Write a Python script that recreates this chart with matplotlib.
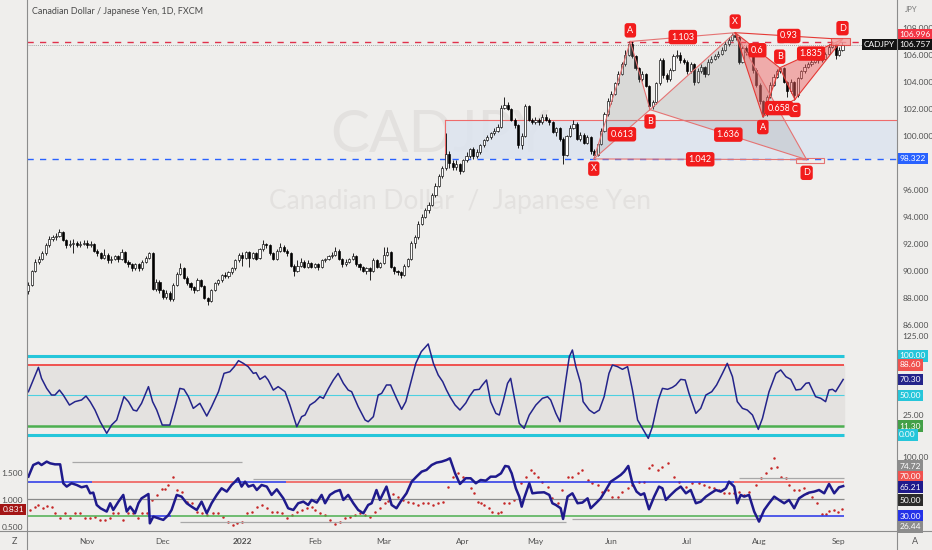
import numpy as np
import matplotlib
matplotlib.use("Agg")
import matplotlib.pyplot as plt
from matplotlib.lines import Line2D
from matplotlib.patches import Polygon, Rectangle
from matplotlib.transforms import blended_transform_factory

plt.rcParams['font.family'] = ['Lato', 'DejaVu Sans']

# ---- daily CAD/JPY candles (bar index 0 = early Oct 2021) ----
opens = [
    88.5, 89.0, 90.0, 90.7, 90.9, 91.3, 91.9, 92.4, 92.5, 92.6,
    92.9, 92.3, 91.9, 92.0, 92.1, 91.9, 92.0, 92.1, 91.9, 92.0,
    91.5, 91.3, 91.0, 91.2, 90.8, 90.9, 91.1, 90.9, 91.4, 90.7,
    90.5, 90.2, 90.5, 90.2, 90.7, 91.0, 91.3, 88.7, 89.2, 88.6,
    88.1, 88.4, 87.9, 89.0, 89.8, 90.2, 89.5, 89.1, 88.8, 88.6,
    89.3, 88.9, 88.0, 87.8, 88.6, 89.1, 89.3, 89.7, 89.6, 89.9,
    90.2, 90.8, 91.2, 91.0, 91.4, 91.0, 91.3, 91.0, 91.6, 92.0,
    91.9, 91.3, 90.9, 91.5, 91.8, 91.5, 91.3, 90.4, 90.0, 90.4,
    90.7, 90.3, 90.6, 90.3, 90.5, 90.3, 90.8, 90.9, 91.1, 91.2,
    91.5, 90.9, 90.5, 90.7, 90.9, 91.1, 90.5, 90.3, 90.0, 90.2,
    90.0, 90.8, 90.3, 90.6, 91.2, 91.4, 90.3, 90.0, 89.9, 89.7,
    90.4, 90.9, 92.1, 92.5, 93.5, 94.0, 94.5, 94.9, 95.6, 96.3,
    97.0, 97.6, 98.7, 98.0, 97.7, 97.9, 97.4, 98.2, 98.5, 99.0,
    98.5, 98.8, 99.3, 99.7, 99.9, 100.2, 100.4, 100.7, 102.1, 102.3,
    102.0, 101.2, 100.8, 99.3, 100.0, 102.2, 101.2, 101.0, 101.2, 101.0,
    101.4, 101.2, 101.0, 100.3, 100.6, 99.8, 98.6, 100.0, 100.6, 100.9,
    99.8, 100.1, 99.5, 99.9, 98.9, 98.6, 99.4, 100.4, 101.6, 102.6,
    103.1, 103.9, 104.6, 105.3, 106.0, 106.8, 105.9, 105.0, 104.2, 104.6,
    103.7, 102.2, 102.5, 103.9, 105.6, 104.5, 104.2, 104.9, 105.9, 106.0,
    105.6, 105.5, 104.8, 105.3, 104.0, 104.8, 105.1, 104.6, 105.5, 105.7,
    105.9, 106.1, 106.4, 106.8, 107.1, 107.5, 107.3, 105.5, 106.5, 106.2,
    106.0, 104.9, 103.8, 102.6, 101.6, 102.9, 103.8, 104.4, 104.8, 105.0,
    104.0, 103.3, 104.0, 103.0, 104.3, 104.8, 105.1, 105.3, 105.5, 105.7,
    105.6, 105.7, 106.1, 106.6, 106.8, 106.0, 106.4]
highs = [
    89.2, 90.1, 90.9, 91.1, 91.5, 92.1, 92.6, 92.7, 92.8, 93.1,
    93.0, 92.4, 92.3, 92.4, 92.2, 92.2, 92.3, 92.3, 92.2, 92.1,
    91.6, 91.4, 91.6, 91.3, 91.1, 91.2, 91.2, 91.6, 91.5, 90.8,
    90.6, 90.6, 90.6, 90.8, 91.1, 91.4, 91.4, 89.4, 89.3, 88.7,
    88.6, 88.5, 89.1, 89.9, 90.6, 90.3, 89.6, 89.2, 88.9, 89.5,
    89.4, 89.0, 88.1, 88.7, 89.2, 89.4, 89.8, 89.9, 90.0, 90.3,
    90.9, 91.3, 91.4, 91.5, 91.5, 91.4, 91.4, 91.7, 92.3, 92.1,
    92.0, 91.4, 91.6, 92.1, 91.9, 91.6, 91.4, 90.5, 90.8, 91.0,
    90.8, 90.8, 90.7, 90.6, 90.6, 90.9, 91.0, 91.2, 91.4, 91.8,
    91.6, 91.0, 90.9, 91.0, 91.3, 91.2, 90.6, 90.4, 90.3, 90.3,
    91.0, 90.9, 90.7, 91.8, 91.8, 91.5, 90.4, 90.1, 90.0, 90.5,
    91.0, 92.2, 92.7, 93.7, 94.2, 94.7, 95.1, 95.8, 96.5, 97.2,
    97.8, 100.2, 98.9, 98.2, 98.2, 98.0, 98.3, 98.8, 99.1, 99.2,
    99.0, 99.4, 99.8, 100.1, 100.3, 100.6, 100.9, 102.3, 102.9, 102.5,
    102.1, 101.3, 100.9, 100.2, 102.4, 102.3, 101.3, 101.4, 101.3, 101.6,
    101.6, 101.3, 101.1, 100.7, 100.7, 99.9, 100.1, 100.8, 101.2, 101.0,
    100.3, 100.2, 100.1, 100.0, 99.0, 99.5, 100.6, 101.8, 102.8, 103.3,
    104.0, 104.8, 105.5, 106.4, 107.0, 107.0, 106.0, 105.1, 104.8, 104.7,
    103.8, 102.7, 104.0, 105.8, 105.8, 104.7, 105.0, 106.1, 106.4, 106.2,
    105.8, 105.6, 105.5, 105.4, 105.0, 105.3, 105.2, 105.7, 105.9, 106.1,
    106.3, 106.6, 107.0, 107.3, 107.6, 107.65, 107.4, 106.7, 106.7, 106.4,
    106.1, 105.0, 103.9, 102.7, 103.0, 104.0, 104.6, 104.95, 105.05, 105.1,
    104.1, 104.2, 104.1, 104.4, 104.9, 105.3, 105.5, 105.7, 105.8, 105.8,
    105.9, 106.2, 106.8, 107.0, 106.9, 106.6, 106.95]
lows = [
    88.3, 88.9, 89.9, 90.5, 90.8, 91.2, 91.8, 92.2, 92.3, 92.5,
    92.2, 91.7, 91.8, 91.3, 91.8, 91.8, 91.9, 91.7, 91.8, 91.4,
    91.1, 90.9, 90.9, 90.6, 90.6, 90.8, 90.7, 90.8, 90.6, 90.3,
    90.0, 90.1, 90.0, 90.1, 90.6, 90.9, 88.6, 88.5, 88.4, 87.9,
    87.9, 87.8, 87.8, 88.9, 89.7, 89.4, 89.0, 88.6, 88.4, 88.5,
    88.8, 87.9, 87.5, 87.7, 88.5, 89.0, 89.2, 89.5, 89.5, 89.8,
    90.1, 90.7, 90.4, 90.9, 90.3, 90.9, 90.8, 90.9, 91.5, 91.7,
    91.2, 90.8, 90.8, 91.4, 91.4, 91.1, 90.3, 89.6, 89.9, 90.3,
    90.2, 90.2, 90.2, 90.2, 90.1, 90.2, 90.7, 90.8, 91.0, 91.1,
    90.8, 90.3, 90.4, 90.6, 90.8, 90.4, 90.1, 89.9, 89.8, 89.3,
    89.9, 90.2, 90.2, 90.5, 91.1, 90.2, 89.8, 89.7, 89.5, 89.6,
    90.3, 90.8, 91.7, 92.4, 93.4, 93.9, 94.3, 94.8, 95.5, 96.2,
    96.9, 97.5, 97.6, 97.5, 97.5, 97.2, 97.3, 98.1, 98.4, 98.3,
    98.4, 98.7, 99.2, 99.6, 99.8, 100.1, 100.3, 100.6, 102.0, 101.9,
    101.1, 100.6, 99.1, 99.0, 99.9, 101.1, 100.9, 100.9, 100.8, 100.9,
    101.1, 100.8, 100.2, 100.0, 99.6, 97.9, 98.5, 99.9, 100.5, 99.7,
    99.6, 99.4, 99.4, 98.7, 98.3, 98.5, 99.3, 100.3, 101.5, 102.4,
    103.0, 103.8, 104.5, 105.2, 105.9, 105.8, 104.9, 104.0, 104.1, 103.6,
    101.95, 102.0, 102.4, 103.8, 104.3, 104.0, 104.1, 104.8, 105.8, 105.4,
    105.3, 104.6, 104.7, 103.8, 103.9, 104.7, 104.4, 104.5, 105.4, 105.6,
    105.8, 106.0, 106.3, 106.7, 107.0, 107.1, 105.3, 105.4, 106.0, 105.8,
    104.7, 103.6, 102.4, 101.43, 101.5, 102.8, 103.7, 104.3, 104.7, 103.9,
    102.9, 103.2, 102.7, 102.9, 104.2, 104.7, 105.0, 105.2, 105.4, 105.4,
    105.5, 105.6, 106.0, 106.5, 105.7, 105.9, 106.3]
closes = [
    89.0, 90.0, 90.7, 90.9, 91.3, 91.9, 92.4, 92.5, 92.6, 92.9,
    92.3, 91.9, 92.0, 92.1, 91.9, 92.0, 92.1, 91.9, 92.0, 91.5,
    91.3, 91.0, 91.2, 90.8, 90.9, 91.1, 90.9, 91.4, 90.7, 90.5,
    90.2, 90.5, 90.2, 90.7, 91.0, 91.3, 88.7, 89.2, 88.6, 88.1,
    88.4, 87.9, 89.0, 89.8, 90.2, 89.5, 89.1, 88.8, 88.6, 89.3,
    88.9, 88.0, 87.8, 88.6, 89.1, 89.3, 89.7, 89.6, 89.9, 90.2,
    90.8, 91.2, 91.0, 91.4, 91.0, 91.3, 90.9, 91.6, 92.0, 91.9,
    91.3, 90.9, 91.5, 91.8, 91.5, 91.3, 90.4, 90.0, 90.4, 90.7,
    90.3, 90.6, 90.3, 90.5, 90.3, 90.8, 90.9, 91.1, 91.2, 91.5,
    90.9, 90.5, 90.7, 90.9, 91.1, 90.5, 90.3, 90.0, 90.2, 90.0,
    90.8, 90.3, 90.6, 91.2, 91.4, 90.3, 90.0, 89.9, 89.7, 90.4,
    90.9, 92.1, 92.5, 93.5, 94.0, 94.5, 94.9, 95.6, 96.3, 97.0,
    97.6, 98.7, 98.0, 97.7, 97.9, 97.4, 98.2, 98.5, 99.0, 98.5,
    98.8, 99.3, 99.7, 99.9, 100.2, 100.4, 100.7, 102.1, 102.3, 102.0,
    101.2, 100.8, 99.3, 100.0, 102.2, 101.2, 101.0, 101.2, 101.0, 101.4,
    101.2, 101.0, 100.3, 100.6, 99.8, 98.6, 100.0, 100.6, 100.9, 99.8,
    100.1, 99.5, 99.9, 98.9, 98.6, 99.4, 100.4, 101.6, 102.6, 103.1,
    103.9, 104.6, 105.3, 106.0, 106.8, 105.9, 105.0, 104.2, 104.6, 103.7,
    102.2, 102.5, 103.9, 105.6, 104.5, 104.2, 104.9, 105.9, 106.0, 105.6,
    105.5, 104.8, 105.3, 104.0, 104.8, 105.1, 104.6, 105.5, 105.7, 105.9,
    106.1, 106.4, 106.8, 107.1, 107.5, 107.3, 105.5, 106.5, 106.2, 106.0,
    104.9, 103.8, 102.6, 101.6, 102.9, 103.8, 104.4, 104.8, 105.0, 104.0,
    103.3, 104.0, 103.0, 104.3, 104.8, 105.1, 105.3, 105.5, 105.7, 105.6,
    105.7, 106.1, 106.6, 106.8, 106.0, 106.4, 106.757]

month_pos = [17, 39, 62, 83, 103, 126, 147, 169, 191, 212, 235]
month_lbl = ['Nov', 'Dec', '2022', 'Feb', 'Mar', 'Apr', 'May', 'Jun', 'Jul', 'Aug', 'Sep']
price_ticks = [86, 88, 90, 92, 94, 96, 100, 102, 104, 106, 108]

# harmonic patterns: X, A, B, C, D (bar index, price)
pat1_x = [163.9, 174.5, 180.2, 204.9, 225.6]
pat1_p = [98.3, 107.0, 101.95, 107.65, 98.25]
pat1_ratio = ['0.613', '1.103', '1.636', '1.042']
pat2_x = [204.9, 212.9, 217.8, 222.2, 236.0]
pat2_p = [107.65, 101.43, 105.05, 102.7, 107.16]
pat2_ratio = ['0.6', '0.658', '1.835', '0.93']

level_red = 106.996
level_blue = 98.322
zone_top = 101.15
zone_start = 120.8
last_price = 106.757

# ---- oscillator pane (bar index, value) ----
osc = [(0, 54.8), (1.4, 69.6), (2.9, 85.6), (3.8, 71.7), (5.3, 59.0), (6.7, 50.6), (7.7, 50.6),
       (9.0, 56.9), (10.1, 50.6), (11.9, 37.9), (13.5, 42.2), (15.4, 44.3), (16.7, 49.3), (17.9, 42.2),
       (19.3, 31.6), (20.8, 16.8), (22.7, 2.1), (24.1, 12.6), (25.6, 19.0), (27.7, 48.5), (29.0, 42.2),
       (30.4, 31.6), (31.4, 30.4), (32.8, 40.1), (34.8, 61.2), (36.0, 42.2), (37.2, 31.6), (38.8, 12.6),
       (41.0, 12.6), (42.5, 35.8), (43.9, 59.0), (45.1, 57.8), (46.4, 48.5), (47.8, 33.7), (49.7, 40.1),
       (51.7, 24.0), (53.1, 35.8), (55.1, 54.8), (56.7, 78.0), (58.4, 80.1), (59.7, 86.5), (60.9, 94.1),
       (62.3, 90.7), (63.7, 86.5), (65.2, 78.0), (66.0, 78.9), (67.1, 70.4), (68.6, 74.6), (69.5, 69.6),
       (71.0, 56.9), (72.4, 61.2), (74.4, 54.8), (75.8, 37.9), (77.8, 10.5), (79.2, 23.2), (80.2, 25.3),
       (81.6, 37.9), (83.1, 42.2), (84.5, 48.5), (85.5, 46.4), (87.0, 59.0), (88.4, 69.6), (89.8, 78.0),
       (91.3, 65.4), (92.7, 56.9), (93.7, 54.8), (95.6, 35.8), (97.6, 19.0), (98.5, 16.8), (100.0, 23.2),
       (101.4, 50.6), (102.4, 52.7), (103.8, 63.3), (105.0, 63.3), (106.7, 46.4), (108.2, 32.5),
       (109.4, 42.2), (110.8, 65.4), (112.3, 90.7), (113.9, 105.5), (115.9, 115.2), (117.4, 90.7),
       (118.8, 75.9), (120.1, 67.5), (121.2, 56.9), (122.2, 48.5), (123.7, 37.9), (125.1, 31.6),
       (126.8, 40.5), (127.8, 48.5), (129.2, 57.0), (130.7, 57.8), (131.6, 63.3), (132.8, 69.6),
       (134.0, 42.2), (135.5, 27.4), (136.5, 25.3), (137.6, 42.2), (138.9, 65.4), (139.8, 71.7),
       (141.1, 42.2), (142.3, 14.7), (143.7, 8.4), (145.2, 25.3), (147.1, 37.9), (149.0, 46.4),
       (150.5, 48.5), (151.4, 44.3), (152.9, 27.4), (154.1, 16.8), (155.8, 69.6), (156.8, 99.1),
       (157.7, 107.6), (158.7, 86.5), (160.1, 65.4), (160.8, 42.2), (162.6, 31.6), (164.0, 27.4),
       (165.5, 31.6), (166.9, 48.5), (168.3, 78.0), (169.3, 88.6), (170.8, 86.5), (172.2, 83.1),
       (173.7, 86.5), (175.1, 57.0), (176.6, 19.0), (178.0, 8.4), (179.7, -4.3), (180.9, 10.5),
       (182.6, 44.3), (183.8, 59.0), (185.3, 57.8), (186.7, 60.3), (187.7, 63.3), (189.1, 70.4),
       (190.4, 69.6), (191.5, 52.7), (193.5, 27.4), (194.9, 33.7), (196.4, 50.6), (198.1, 54.8),
       (199.5, 63.3), (201.2, 78.0), (202.6, 90.7), (204.1, 73.8), (205.5, 42.2), (207.0, 33.7),
       (208.4, 31.6), (209.9, 25.3), (211.6, 7.1), (212.8, 21.1), (214.7, 54.8), (216.7, 78.0),
       (218.1, 82.3), (219.6, 73.8), (221.0, 70.4), (222.5, 57.0), (223.9, 57.8), (225.4, 65.4),
       (226.3, 66.2), (227.3, 57.0), (228.2, 48.5), (229.7, 46.4), (231.1, 42.2), (232.1, 57.0),
       (233.1, 57.8), (234.0, 54.8), (236.2, 70.3)]
osc_levels = [100.0, 88.6, 50.0, 11.3, 0.0]

# ---- bottom pane: thick line (right scale) and red dots (left scale) ----
strength = [(0, 76.3), (1.4, 90.0), (2.9, 92.8), (3.8, 90.0), (5.3, 94.0), (6.3, 92.0), (7.7, 90.8),
            (9.2, 90.8), (10.1, 68.5), (11.1, 64.6), (12.5, 68.5), (14.0, 66.5), (15.4, 63.8),
            (16.9, 65.3), (17.9, 56.7), (18.8, 57.5), (19.8, 43.0), (20.9, 39.1), (22.7, 35.2),
            (23.7, 45.0), (24.6, 37.1), (26.1, 46.9), (27.5, 54.8), (28.5, 35.2), (29.5, 41.0),
            (30.9, 33.2), (31.9, 45.0), (32.8, 50.8), (34.8, 55.9), (35.2, 21.4), (36.2, 29.3),
            (37.7, 27.3), (39.1, 25.4), (40.6, 31.2), (41.5, 37.1), (43.0, 54.8), (44.4, 52.8),
            (45.9, 45.0), (47.3, 41.0), (48.8, 37.1), (50.2, 46.9), (51.7, 33.2), (53.1, 45.0),
            (54.6, 54.8), (56.0, 62.6), (57.5, 58.7), (58.9, 66.5), (59.9, 70.4), (60.8, 74.4),
            (61.8, 64.6), (62.8, 70.4), (63.8, 64.6), (65.2, 66.5), (66.2, 60.6), (67.6, 66.5),
            (69.1, 64.6), (70.5, 54.8), (72.0, 61.4), (73.9, 50.8), (75.3, 39.1), (76.8, 37.1),
            (78.2, 45.0), (79.7, 46.9), (81.1, 43.0), (82.1, 48.9), (83.6, 45.8), (85.0, 54.8),
            (86.0, 45.0), (87.4, 54.8), (88.9, 58.7), (90.3, 60.6), (91.3, 48.9), (92.7, 54.8),
            (94.2, 45.0), (95.6, 37.1), (97.1, 33.2), (98.5, 43.0), (99.5, 45.0), (100.9, 60.6),
            (101.9, 48.9), (103.8, 64.6), (105.3, 43.0), (106.7, 39.1), (108.2, 48.9), (109.6, 56.7),
            (111.1, 70.4), (112.5, 76.3), (114.0, 82.2), (115.4, 84.2), (116.9, 90.0), (118.3, 92.8),
            (119.8, 94.0), (121.2, 95.9), (122.2, 97.9), (123.7, 80.2), (125.1, 67.7), (126.8, 74.5),
            (128.2, 74.4), (129.7, 68.5), (131.1, 72.4), (132.6, 71.6), (134.0, 76.3), (135.5, 76.3),
            (137.0, 80.2), (138.2, 88.9), (139.2, 88.1), (140.1, 80.2), (141.3, 62.6), (142.3, 52.8),
            (143.0, 41.0), (143.7, 50.8), (145.2, 68.5), (146.1, 56.7), (147.6, 57.5), (149.5, 57.9),
            (151.0, 54.8), (151.9, 45.0), (152.9, 43.0), (154.3, 39.1), (155.0, 26.5), (156.3, 52.8),
            (157.7, 56.7), (159.2, 45.0), (160.6, 45.8), (162.1, 50.8), (163.0, 39.1), (164.5, 45.0),
            (165.9, 50.8), (167.4, 60.6), (168.8, 70.4), (170.3, 74.4), (171.7, 78.3), (172.7, 82.2),
            (173.9, 88.9), (175.1, 68.5), (176.3, 58.7), (177.5, 54.8), (178.5, 56.7), (179.9, 37.9),
            (181.4, 52.8), (182.8, 64.6), (183.8, 62.6), (184.8, 48.9), (186.2, 54.8), (187.7, 60.6),
            (189.1, 64.6), (190.6, 56.7), (192.0, 60.6), (193.5, 45.0), (194.9, 46.9), (196.4, 52.8),
            (197.8, 56.7), (199.3, 60.6), (200.7, 58.7), (202.2, 62.6), (203.1, 70.4), (204.6, 64.6),
            (205.5, 45.0), (206.5, 54.8), (207.5, 52.8), (208.9, 54.8), (210.4, 35.2), (211.8, 23.4),
            (213.3, 37.1), (214.7, 45.0), (216.2, 52.8), (217.6, 48.9), (219.1, 45.0), (220.5, 48.9),
            (222.0, 39.1), (223.4, 50.8), (224.9, 54.8), (226.3, 57.5), (227.8, 58.7), (229.2, 60.6),
            (230.7, 56.7), (232.1, 67.7), (233.6, 56.7), (235.0, 63.8), (236.2, 65.21)]

dots = [(0.5, 0.815), (1.9, 0.876), (2.9, 0.907), (4.3, 0.846), (5.3, 0.889), (6.7, 0.876), (7.7, 0.765),
        (9.2, 0.660), (10.6, 0.753), (12.1, 0.660), (13.5, 0.753), (15.0, 0.753), (16.4, 0.660),
        (17.9, 0.660), (19.3, 0.691), (20.8, 0.630), (22.2, 0.630), (23.7, 0.660), (24.6, 0.753),
        (26.1, 0.753), (27.5, 0.630), (29.0, 0.753), (30.4, 0.753), (31.9, 0.660), (32.8, 0.753),
        (34.3, 0.765), (35.7, 1.000), (37.2, 1.092), (38.6, 1.197), (39.6, 1.197), (40.6, 1.278),
        (42.0, 1.432), (43.0, 1.185), (44.4, 1.154), (45.9, 0.969), (47.3, 0.938), (48.8, 0.784),
        (50.2, 0.753), (51.7, 0.722), (53.6, 0.753), (55.1, 0.753), (56.5, 0.691), (58.0, 0.599),
        (59.4, 0.537), (60.4, 0.568), (61.8, 0.599), (63.3, 0.765), (64.7, 0.784), (66.2, 0.876),
        (67.6, 0.907), (69.1, 0.846), (70.5, 0.784), (72.0, 0.784), (73.4, 0.753), (74.9, 0.660),
        (76.3, 0.722), (77.8, 0.784), (79.2, 0.815), (80.7, 0.846), (82.1, 0.876), (83.1, 0.815),
        (84.5, 0.753), (86.0, 0.722), (87.4, 0.630), (88.9, 0.555), (90.3, 0.599), (91.8, 0.660),
        (93.2, 0.691), (94.7, 0.722), (96.1, 0.753), (97.6, 0.722), (99.0, 0.691), (100.5, 0.784),
        (101.9, 0.846), (103.4, 0.938), (104.3, 0.988), (105.8, 1.105), (107.2, 1.062), (108.7, 1.000),
        (110.1, 0.969), (111.6, 0.938), (113.0, 0.907), (114.5, 0.938), (115.9, 0.938), (117.4, 0.907),
        (118.8, 0.938), (120.3, 0.969), (121.7, 1.247), (123.2, 1.432), (124.6, 1.494), (126.1, 1.432),
        (128.2, 1.216), (129.2, 1.123), (130.2, 0.969), (131.1, 0.938), (132.1, 0.907), (133.6, 0.846),
        (134.5, 0.784), (136.0, 0.753), (136.9, 0.784), (137.9, 0.938), (139.4, 0.938), (140.8, 1.000),
        (142.7, 1.309), (144.2, 1.432), (145.6, 1.556), (146.6, 1.494), (147.6, 1.432), (149.0, 1.340),
        (150.5, 1.247), (151.9, 1.031), (153.4, 0.938), (154.8, 1.185), (156.3, 1.432), (157.7, 1.432),
        (159.2, 1.494), (160.6, 1.556), (162.1, 1.370), (163.5, 1.309), (165.0, 1.278), (166.4, 1.154),
        (167.9, 1.185), (169.3, 1.062), (170.8, 1.062), (172.2, 1.154), (173.7, 1.216), (175.1, 1.278),
        (177.0, 1.340), (178.5, 1.340), (179.9, 1.586), (180.9, 1.648), (182.4, 1.556), (183.8, 1.617),
        (185.3, 1.679), (187.2, 1.432), (188.6, 1.340), (190.6, 1.247), (192.5, 1.309), (194.4, 1.309),
        (195.9, 1.278), (197.3, 1.247), (198.8, 1.216), (200.2, 1.185), (201.7, 1.123), (203.1, 1.123),
        (204.6, 1.123), (206.0, 1.154), (207.5, 1.092), (208.9, 1.154), (210.9, 1.278), (212.3, 1.401),
        (213.8, 1.494), (215.2, 1.586), (216.2, 1.772), (217.1, 1.617), (218.1, 1.432), (219.6, 1.401),
        (220.5, 1.278), (222.0, 1.185), (223.4, 1.185), (224.9, 1.216), (225.8, 1.123), (227.3, 1.062),
        (228.7, 0.938), (230.2, 0.741), (231.2, 0.734), (232.1, 0.802), (233.6, 0.815), (234.6, 0.784),
        (235.8, 0.831)]

# state-coloured 70 / 30 lines: (start bar, end bar, colour)
upper_segs = [(-0.4, 18.3, '#2432e8'), (18.3, 59.5, '#f0524f'), (59.5, 74.7, '#2432e8'),
              (74.7, 110.8, '#f0524f'), (110.8, 204.6, '#2432e8'), (204.6, 236.4, '#f0524f')]
lower_segs = [(-0.4, 34.8, '#4caf50'), (34.8, 41.2, '#2432e8'), (41.2, 211.8, '#4caf50'),
              (211.8, 236.4, '#2432e8')]
gray_segs = [(12.5, 62.0, 93.9), (65.2, 111.6, 73.2), (206.0, 236.4, 74.72),
             (44.0, 155.8, 22.6), (157.7, 210.9, 26.44)]
last_bar = 236.4

W, H = 932, 550
BG = '#efeeec'
X0, X1 = -0.41, 251.8

fig = plt.figure(figsize=(W / 100, H / 100), dpi=100, facecolor=BG)


def pane(l, t, r, b):
    a = fig.add_axes([l / W, 1 - b / H, (r - l) / W, (b - t) / H])
    a.set_facecolor(BG)
    for s in a.spines.values():
        s.set_visible(False)
    a.set_xlim(X0, X1)
    a.tick_params(length=0, labelsize=6, colors='#505050')
    return a


ax1 = pane(27, 0, 897, 333)
ax2 = pane(27, 333, 897, 447)
ax3 = pane(27, 447, 897, 531)
ax3r = ax3.twinx()
ax3r.set_xlim(X0, X1)
for s in ax3r.spines.values():
    s.set_visible(False)
ax3r.tick_params(length=0, labelsize=6, colors='#505050')

ax1.set_ylim(85.41, 110.07)
ax2.set_ylim(-15.2, 129.1)
ax3.set_ylim(0.426, 1.981)
ax3r.set_ylim(12.35, 111.2)


def tag(ax, y, text, fc, tc='white', x=1.0025, ha='left'):
    tr = blended_transform_factory(ax.transAxes, ax.transData)
    ax.text(x, y, text, transform=tr, ha=ha, va='center', fontsize=6, color=tc, clip_on=False,
            zorder=20, bbox=dict(boxstyle='square,pad=0.25', fc=fc, ec='none'))


# ---- price pane ----
ax1.text(440 / W, 1 - 135 / H, 'CADJPY', transform=fig.transFigure, ha='center', va='center',
         fontsize=42, color='#e3e1df', zorder=0)
ax1.text(460 / W, 1 - 202 / H, 'Canadian Dollar  /  Japanese Yen', transform=fig.transFigure,
         ha='center', va='center', fontsize=19, color='#e3e1df', zorder=0)

ax1.add_patch(Rectangle((zone_start, level_blue), X1 - zone_start, zone_top - level_blue,
                        fc='#dde4ef', ec='none', alpha=0.85, zorder=1))
ax1.plot([zone_start, X1], [zone_top, zone_top], color='#ef6b6b', lw=0.8, zorder=2)
ax1.plot([zone_start, zone_start], [level_blue, zone_top], color='#ef6b6b', lw=0.8, zorder=2)

ax1.axhline(level_red, color='#e0314b', lw=1.0, ls=(0, (4.5, 4.5)), zorder=2)
ax1.axhline(level_blue, color='#2962ff', lw=1.0, ls=(0, (4.5, 4.5)), zorder=2)
ax1.axhline(last_price, color='#8a8a8a', lw=0.6, ls=(0, (1, 1.5)), zorder=2)

o = np.array(opens)
c = np.array(closes)
hi = np.array(highs)
lo = np.array(lows)
xb = np.arange(len(c))
up = c >= o
ax1.vlines(xb, lo, hi, color='black', lw=0.6, zorder=3)
ax1.bar(xb, np.maximum(np.abs(c - o), 0.04), bottom=np.minimum(o, c), width=0.62,
        color=np.where(up, 'white', 'black'), edgecolor='black', linewidth=0.45, zorder=4)


def draw_pattern(px, pp, ratios, fill, alpha, lc, letters):
    pts = list(zip(px, pp))
    for tri in ([0, 1, 2], [2, 3, 4]):
        ax1.add_patch(Polygon([pts[k] for k in tri], closed=True, fc=fill, ec='none',
                              alpha=alpha, zorder=5))
    edges = [(0, 1), (1, 2), (2, 3), (3, 4), (0, 2), (1, 3), (2, 4), (0, 4)]
    for a, b in edges:
        ax1.plot([px[a], px[b]], [pp[a], pp[b]], color=lc, lw=0.8, zorder=6)
    for (a, b), r in zip([(0, 2), (1, 3), (2, 4), (0, 4)], ratios):
        ax1.text((px[a] + px[b]) / 2, (pp[a] + pp[b]) / 2, r, ha='center', va='center',
                 fontsize=6.5, color='white', zorder=8,
                 bbox=dict(boxstyle='round,pad=0.3', fc='#f21c1c', ec='none'))
    for k, (name, dy) in letters.items():
        ax1.annotate(name, (px[k], pp[k]), xytext=(0, dy), textcoords='offset points',
                     ha='center', va='center', fontsize=6.5, color='white', zorder=8,
                     bbox=dict(boxstyle='round,pad=0.3', fc='#f21c1c', ec='none'))


draw_pattern(pat1_x, pat1_p, pat1_ratio, '#8f8f8f', 0.22, '#e57373',
             {0: ('X', -7), 1: ('A', 8), 2: ('B', -8.5), 4: ('D', -9.5)})
draw_pattern(pat2_x, pat2_p, pat2_ratio, '#f05a5a', 0.45, '#e53935',
             {0: ('X', 8), 1: ('A', -7.5), 2: ('B', 8), 3: ('C', -7.5), 4: ('D', 8)})
ax1.add_patch(Rectangle((pat1_x[4] - 3.2, 97.98), 8.1, 0.37, fc='none', ec='#e57373', lw=0.8, zorder=6))
ax1.add_patch(Rectangle((pat2_x[4] - 3.2, 106.74), 5.4, 0.5, fc='#f4a0a0', ec='#e53935',
                        lw=0.8, alpha=0.8, zorder=6))

ax1.set_xticks([])
ax1.yaxis.tick_right()
ax1.set_yticks(price_ticks)
ax1.set_yticklabels([f'{v:.3f}' for v in price_ticks])
ax1.tick_params(axis='y', pad=4)
tag(ax1, 107.52, f'{level_red:.3f}', '#f23645')
tag(ax1, 106.78, f'{last_price:.3f}', '#131313')
tag(ax1, 106.78, 'CADJPY', '#131313', x=0.9975, ha='right')
tag(ax1, level_blue, f'{level_blue:.3f}', '#2962ff')

# ---- oscillator pane ----
ax2.fill_between([X0, last_bar], 11.3, 88.6, color='#e4e2e0', zorder=0)
ax2.hlines(osc_levels[0], X0, last_bar, color='#26c6da', lw=2.2)
ax2.hlines(osc_levels[1], X0, last_bar, color='#f0524f', lw=1.4)
ax2.hlines(osc_levels[2], X0, last_bar, color='#4dd0e1', lw=0.8)
ax2.hlines(osc_levels[3], X0, last_bar, color='#4caf50', lw=1.8)
ax2.hlines(osc_levels[4], X0, last_bar, color='#26c6da', lw=2.2)
ox, oy = zip(*osc)
ax2.plot(ox, oy, color='#24248a', lw=1.1, zorder=5)
ax2.set_xticks([])
ax2.yaxis.tick_right()
ax2.set_yticks([125, 25])
ax2.set_yticklabels(['125.00', '25.00'])
ax2.tick_params(axis='y', pad=4)
tag(ax2, 100.0, '100.00', '#26c6da')
tag(ax2, 88.6, '88.60', '#f0524f')
tag(ax2, oy[-1], f'{oy[-1]:.2f}', '#24248a')
tag(ax2, 50.0, '50.00', '#26c6da')
tag(ax2, 11.3, '11.30', '#43a047')
tag(ax2, 0.0, '0.00', '#26c6da')

# ---- bottom pane ----
ax3r.hlines(50, X0, last_bar, color='#8a8a8a', lw=0.9)
for a, b, col in upper_segs:
    ax3r.hlines(70, a, b, color=col, lw=1.1)
for a, b, col in lower_segs:
    ax3r.hlines(30, a, b, color=col, lw=1.1)
for a, b, v in gray_segs:
    ax3r.hlines(v, a, b, color='#a8a8a8', lw=0.9)
dx, dy = zip(*dots)
ax3.plot(dx, dy, 'o', ms=1.8, color='#c62828', mec='none', zorder=3)
sx, sy = zip(*strength)
ax3r.plot(sx, sy, color='#1f1a8c', lw=1.8, zorder=5)

ax3.set_yticks([0.5, 1.0, 1.5])
ax3.set_yticklabels(['0.500', '1.000', '1.500'])
ax3.tick_params(axis='y', pad=3)
ax3.set_xticks(month_pos)
ax3.set_xticklabels(month_lbl)
ax3.tick_params(axis='x', pad=5)
for t in ax3.get_xticklabels():
    if t.get_text() == '2022':
        t.set_fontweight('bold')
ax3r.set_yticks([100])
ax3r.set_yticklabels(['100.00'])
ax3r.tick_params(axis='y', pad=4)
tag(ax3r, 88.8, '74.72', '#8c8c8c')
tag(ax3r, 75.9, '70.00', '#f0524f')
tag(ax3r, 64.1, f'{sy[-1]:.2f}', '#1f1a8c')
tag(ax3r, 48.8, '50.00', '#2b2b2b')
tag(ax3r, 30.0, '30.00', '#2432e8')
tag(ax3r, 17.1, '26.44', '#8c8c8c')
tag(ax3, dy[-1], f'{dy[-1]:.3f}', '#a31515', x=-0.0035, ha='right')

# ---- frame lines and header text ----
for xp in (27, 897):
    fig.add_artist(Line2D([xp / W, xp / W], [0, 1], color='#8c8c8c', lw=0.8, transform=fig.transFigure))
fig.add_artist(Line2D([0, 1], [1 - 531 / H, 1 - 531 / H], color='#8c8c8c', lw=0.8,
                      transform=fig.transFigure))
fig.text(32 / W, 1 - 11 / H, 'Canadian Dollar / Japanese Yen, 1D, FXCM', fontsize=6.5,
         color='#4a4a4a', va='center')
fig.text(905 / W, 1 - 9 / H, 'JPY', fontsize=5.5, color='#7a7a7a', va='center')
fig.text(14 / W, 1 - 541 / H, 'Z', fontsize=6.5, color='#555555', va='center', ha='center')
fig.text(915 / W, 1 - 541 / H, 'A', fontsize=6.5, color='#555555', va='center', ha='center')

fig.savefig('out.png', dpi=100, facecolor=BG)
